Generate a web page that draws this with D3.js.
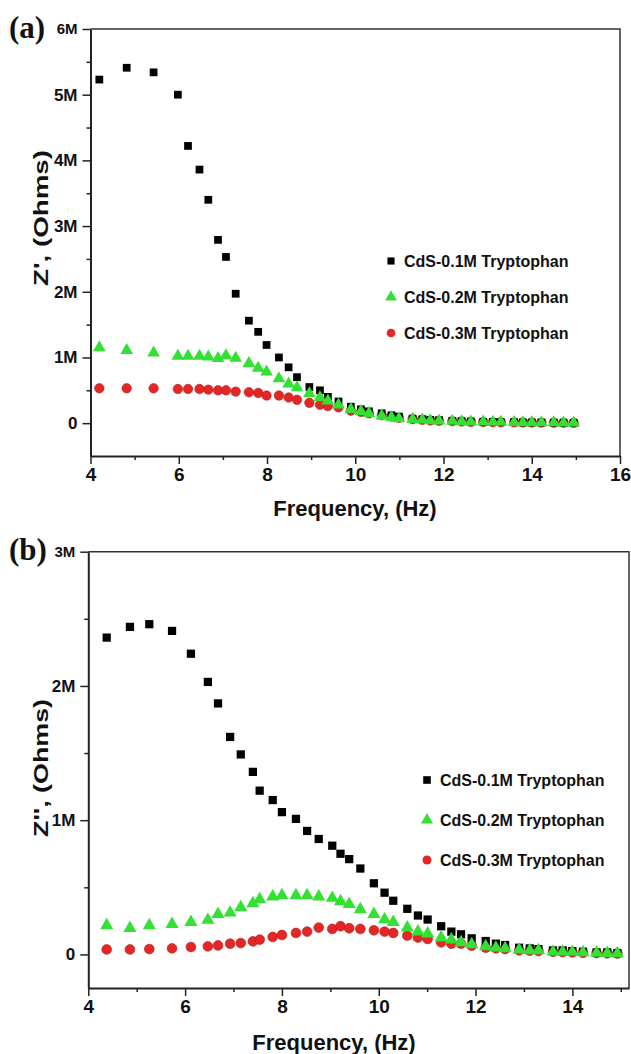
<!DOCTYPE html>
<html lang="en">
<head>
  <meta charset="UTF-8" />
  <title>CdS Tryptophan impedance vs frequency</title>
  <script src="https://d3js.org/d3.v7.min.js"></script>
  <style>
    body { margin: 0; background: #fff; }
    svg { display: block; font-family: "Liberation Sans", Arial, sans-serif; }
    .tick text { font-weight: bold; fill: #111; }
    .axis-title { font-weight: bold; fill: #111; }
    .legend text { font-size: 16px; font-weight: bold; fill: #111; }
    .panel-tag { font-family: "Liberation Serif", "Times New Roman", serif; font-weight: bold; font-size: 31px; fill: #111; }
  </style>
</head>
<body>
<svg width="631" height="1054"></svg>

<script>
  // ---- data (values in MΩ) ----
  const seriesNames = ["CdS-0.1M Tryptophan", "CdS-0.2M Tryptophan", "CdS-0.3M Tryptophan"];

  // (a) Z'
  const freqA = [4.20, 4.82, 5.43, 5.98, 6.21, 6.47, 6.67, 6.89, 7.07, 7.29, 7.59, 7.80, 7.99, 8.27, 8.49,
                 8.68, 8.96, 9.20, 9.38, 9.62, 9.90, 10.13, 10.31, 10.60, 10.82, 10.99, 11.30, 11.52, 11.70,
                 11.90, 12.20, 12.41, 12.62, 12.90, 13.12, 13.30, 13.60, 13.80, 14.00, 14.22, 14.50, 14.72, 14.95];
  const zReal1 = [5.23, 5.41, 5.34, 5.00, 4.22, 3.86, 3.40, 2.79, 2.53, 1.97, 1.56, 1.39, 1.19, 1.00, 0.85,
                  0.70, 0.55, 0.50, 0.40, 0.33, 0.25, 0.21, 0.18, 0.15, 0.12, 0.10, 0.07, 0.06, 0.05,
                  0.045, 0.035, 0.03, 0.025, 0.02, 0.02, 0.015, 0.015, 0.01, 0.01, 0.01, 0.008, 0.006, 0.005];
  const zReal2 = [1.15, 1.11, 1.07, 1.02, 1.02, 1.02, 1.01, 0.985, 1.03, 0.99, 0.91, 0.84, 0.78, 0.68, 0.60,
                  0.54, 0.45, 0.39, 0.34, 0.28, 0.21, 0.18, 0.15, 0.11, 0.09, 0.07, 0.06, 0.05, 0.04,
                  0.035, 0.03, 0.025, 0.02, 0.02, 0.015, 0.015, 0.012, 0.01, 0.01, 0.008, 0.007, 0.006, 0.005];
  const zReal3 = [0.53, 0.53, 0.53, 0.52, 0.52, 0.52, 0.51, 0.50, 0.50, 0.48, 0.47, 0.46, 0.42, 0.42, 0.39,
                  0.355, 0.31, 0.28, 0.26, 0.24, 0.19, 0.17, 0.15, 0.12, 0.10, 0.08, 0.06, 0.05, 0.04,
                  0.035, 0.03, 0.025, 0.02, 0.018, 0.015, 0.013, 0.012, 0.01, 0.009, 0.008, 0.007, 0.006, 0.005];

  // (b) Z''
  const freqB = [4.38, 4.86, 5.26, 5.73, 6.12, 6.47, 6.68, 6.93, 7.15, 7.40, 7.54, 7.81, 8.00, 8.29, 8.52,
                 8.76, 9.04, 9.21, 9.39, 9.62, 9.90, 10.12, 10.30, 10.59, 10.81, 11.01, 11.29, 11.50, 11.70,
                 11.92, 12.21, 12.42, 12.61, 12.90, 13.12, 13.30, 13.60, 13.80, 14.00, 14.22, 14.50, 14.72, 14.93];
  const zImag1 = [2.36, 2.44, 2.46, 2.41, 2.24, 2.03, 1.87, 1.62, 1.49, 1.36, 1.22, 1.15, 1.06, 1.01, 0.92,
                  0.86, 0.81, 0.75, 0.71, 0.64, 0.53, 0.46, 0.40, 0.34, 0.29, 0.26, 0.21, 0.17, 0.15,
                  0.12, 0.10, 0.08, 0.07, 0.05, 0.045, 0.04, 0.03, 0.03, 0.025, 0.02, 0.015, 0.015, 0.01];
  const zImag2 = [0.216, 0.196, 0.216, 0.226, 0.24, 0.256, 0.30, 0.31, 0.35, 0.38, 0.41, 0.43, 0.44, 0.44, 0.44,
                  0.43, 0.42, 0.395, 0.375, 0.335, 0.30, 0.26, 0.24, 0.20, 0.17, 0.155, 0.125, 0.11, 0.09,
                  0.075, 0.06, 0.05, 0.045, 0.035, 0.03, 0.03, 0.02, 0.02, 0.018, 0.015, 0.012, 0.01, 0.008];
  const zImag3 = [0.037, 0.037, 0.04, 0.045, 0.055, 0.06, 0.067, 0.08, 0.085, 0.097, 0.11, 0.13, 0.145, 0.16, 0.17,
                  0.20, 0.19, 0.21, 0.195, 0.19, 0.18, 0.17, 0.16, 0.14, 0.125, 0.115, 0.09, 0.08, 0.08,
                  0.065, 0.05, 0.045, 0.04, 0.03, 0.028, 0.025, 0.02, 0.018, 0.015, 0.012, 0.01, 0.008, 0.007];

  const xTicksA = [4, 6, 8, 10, 12, 14, 16];
  const xTicksB = [4, 6, 8, 10, 12, 14];
  const xMinor = [5, 7, 9, 11, 13, 15];
  const yTicksA = [0, 1, 2, 3, 4, 5, 6];
  const yMinorA = [0.5, 1.5, 2.5, 3.5, 4.5, 5.5];
  const yTicksB = [0, 1, 2, 3];
  const yMinorB = [0.5, 1.5, 2.5];

  const colors = ["#000000", "#33e033", "#e32626"];
  const symbols = [d3.symbolSquare, d3.symbolTriangle, d3.symbolCircle];

  const svg = d3.select("svg");
  const fmtM = d => d === 0 ? "0" : d + "M";

  function drawPanel(cfg) {
    const x = d3.scaleLinear().domain(cfg.xDomain).range([cfg.left, cfg.right]);
    const y = d3.scaleLinear().domain(cfg.yDomain).range([cfg.bottom, cfg.top]);
    const g = svg.append("g");

    // top / right frame
    g.append("path")
      .attr("d", `M${cfg.left},${cfg.top}H${cfg.right}V${cfg.bottom}`)
      .attr("fill", "none").attr("stroke", "#333").attr("stroke-width", 1.5);

    // minor ticks
    g.append("g").attr("transform", `translate(0,${cfg.bottom})`)
      .call(d3.axisBottom(x).tickValues(cfg.xMinor).tickSize(4).tickFormat(""))
      .call(a => a.select(".domain").remove());
    g.append("g").attr("transform", `translate(${cfg.left},0)`)
      .call(d3.axisLeft(y).tickValues(cfg.yMinor).tickSize(4).tickFormat(""))
      .call(a => a.select(".domain").remove());

    // major axes
    const xa = g.append("g").attr("transform", `translate(0,${cfg.bottom})`)
      .call(d3.axisBottom(x).tickValues(cfg.xTicks).tickSize(8).tickSizeOuter(0).tickPadding(4));
    xa.selectAll("text").attr("font-size", 19);
    const ya = g.append("g").attr("transform", `translate(${cfg.left},0)`)
      .call(d3.axisLeft(y).tickValues(cfg.yTicks).tickFormat(fmtM).tickSize(8).tickSizeOuter(0).tickPadding(5));
    ya.selectAll("text").attr("font-size", d => d === cfg.yTicks[cfg.yTicks.length - 1] ? 15 : 17);

    g.selectAll(".domain").attr("stroke", "#222").attr("stroke-width", 2);
    g.selectAll(".tick line").attr("stroke", "#222").attr("stroke-width", 1.5);

    // points
    const order = [2, 0, 1];
    order.forEach(i => {
      const sym = d3.symbol().type(symbols[i]).size(cfg.sizes[i]);
      g.append("g").selectAll("path")
        .data(cfg.freq.map((f, k) => [f, cfg.series[i][k]]))
        .join("path")
        .attr("transform", d => `translate(${x(d[0])},${y(d[1])})`)
        .attr("d", sym)
        .attr("fill", colors[i])
        .attr("stroke", i === 2 ? "#b81818" : "none")
        .attr("stroke-width", 0.6);
    });

    // legend
    const lg = g.append("g").attr("class", "legend");
    seriesNames.forEach((name, i) => {
      const ly = cfg.legendY[i];
      lg.append("path")
        .attr("transform", `translate(${cfg.legendX},${ly})`)
        .attr("d", d3.symbol().type(symbols[i]).size(cfg.sizes[i] * 0.85))
        .attr("fill", colors[i]);
      lg.append("text").attr("x", cfg.legendX + 13).attr("y", ly + 6).text(name);
    });

    // axis titles
    g.append("text").attr("class", "axis-title")
      .attr("x", cfg.xTitleX).attr("y", cfg.xTitleY)
      .attr("text-anchor", "middle").attr("font-size", 22)
      .text("Frequency, (Hz)");
    g.append("text").attr("class", "axis-title")
      .attr("transform", `translate(${cfg.yTitleX},${cfg.yTitleY}) rotate(-90)`)
      .attr("text-anchor", "middle").attr("font-size", 21)
      .attr("textLength", cfg.yTitleLen).attr("lengthAdjust", "spacingAndGlyphs")
      .text(cfg.yTitle);

    svg.append("text").attr("class", "panel-tag")
      .attr("x", 9).attr("y", cfg.tagY).text(cfg.tag);
  }

  drawPanel({
    tag: "(a)", tagY: 38,
    left: 90.5, right: 620, top: 29, bottom: 456,
    xDomain: [4, 16], yDomain: [-0.5, 6],
    xTicks: xTicksA, xMinor: xMinor, yTicks: yTicksA, yMinor: yMinorA,
    freq: freqA, series: [zReal1, zReal2, zReal3],
    sizes: [60, 70, 70],
    legendX: 391, legendY: [261, 297, 333],
    xTitleX: 355, xTitleY: 516,
    yTitle: "Z', (Ohms)", yTitleX: 48, yTitleY: 218, yTitleLen: 136
  });

  drawPanel({
    tag: "(b)", tagY: 560,
    left: 88.3, right: 629, top: 551.7, bottom: 988,
    xDomain: [4, 15.17], yDomain: [-0.25, 3],
    xTicks: xTicksB, xMinor: xMinor, yTicks: yTicksB, yMinor: yMinorB,
    freq: freqB, series: [zImag1, zImag2, zImag3],
    sizes: [68, 75, 75],
    legendX: 427, legendY: [780, 820, 860],
    xTitleX: 334, xTitleY: 1050,
    yTitle: "Z'', (Ohms)", yTitleX: 48, yTitleY: 768, yTitleLen: 138
  });
</script>
</body>
</html>
